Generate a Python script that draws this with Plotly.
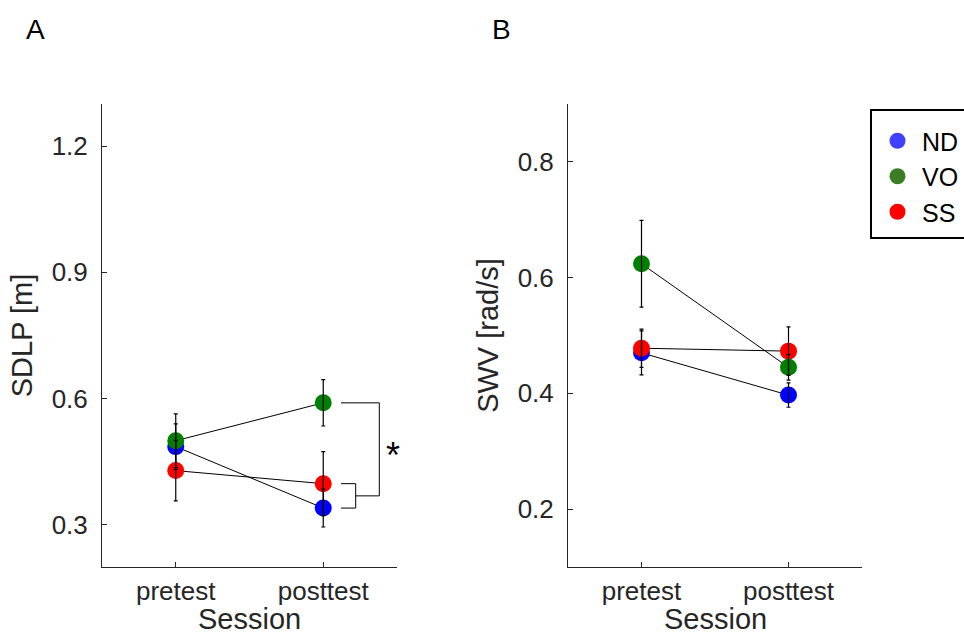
import plotly.graph_objects as go

# Sessions and groups
sessions = ["pretest", "posttest"]
session_pos = [1, 2]
group_names = ["ND", "VO", "SS"]

# Panel A: SDLP [m], group means and error bars per session
sdlp_nd = [0.486, 0.340]
sdlp_nd_err = [0.054, 0.045]
sdlp_vo = [0.500, 0.590]
sdlp_vo_err = [0.064, 0.055]
sdlp_ss = [0.429, 0.398]
sdlp_ss_err = [0.072, 0.076]
sdlp_ticks = [0.3, 0.6, 0.9, 1.2]

# Panel B: SWV [rad/s], group means and error bars per session
swv_nd = [0.470, 0.397]
swv_nd_err = [0.038, 0.021]
swv_vo = [0.624, 0.445]
swv_vo_err = [0.075, 0.022]
swv_ss = [0.478, 0.473]
swv_ss_err = [0.033, 0.042]
swv_ticks = [0.2, 0.4, 0.6, 0.8]

marker_colors = {"ND": "#0000ff", "VO": "#008000", "SS": "#ff0000"}
legend_colors = {"ND": "#4040ff", "VO": "#3a7d22", "SS": "#ff0000"}

FONT = "Liberation Sans, Arial, Helvetica, sans-serif"
AXIS_COLOR = "#262626"
W, H = 964, 636

fig = go.Figure()


def add_panel(series, xa, ya):
    # series: list of (name, means, errs), in drawing order
    for name, m, e in series:
        fig.add_trace(go.Scatter(
            x=session_pos, y=m, mode="lines",
            line=dict(color="black", width=1),
            showlegend=False, hoverinfo="skip", xaxis=xa, yaxis=ya))
    for name, m, e in series:
        fig.add_trace(go.Scatter(
            x=session_pos, y=m, mode="markers",
            marker=dict(color=marker_colors[name], size=17, line=dict(width=0)),
            showlegend=False, name=name, xaxis=xa, yaxis=ya))
    for name, m, e in series:
        fig.add_trace(go.Scatter(
            x=session_pos, y=m, mode="markers",
            marker=dict(size=1, opacity=0),
            error_y=dict(type="data", array=e, color="black",
                         thickness=1.2, width=2),
            showlegend=False, hoverinfo="skip", xaxis=xa, yaxis=ya))


add_panel([("ND", sdlp_nd, sdlp_nd_err),
           ("SS", sdlp_ss, sdlp_ss_err),
           ("VO", sdlp_vo, sdlp_vo_err)], "x", "y")
add_panel([("ND", swv_nd, swv_nd_err),
           ("SS", swv_ss, swv_ss_err),
           ("VO", swv_vo, swv_vo_err)], "x2", "y2")

# Legend entries
for rank, name in enumerate(group_names):
    fig.add_trace(go.Scatter(
        x=[None], y=[None], mode="markers", name=name,
        marker=dict(color=legend_colors[name], size=16),
        legendgroup=name, legendrank=rank + 1, xaxis="x2", yaxis="y2"))

# Legend frame (runs past the right edge of the figure)
fig.add_shape(type="rect", xref="paper", yref="paper",
              x0=871 / W, x1=1.05, y0=1 - 238 / H, y1=1 - 110 / H,
              line=dict(color="black", width=2), fillcolor="white",
              layer="above")

# Significance bracket between VO and the ND/SS pair at posttest
x_in, x_mid, x_out = 2.12, 2.22, 2.38
y_join = (sdlp_ss[1] + sdlp_nd[1]) / 2
bracket = (f"M {x_in} {sdlp_ss[1]} L {x_mid} {sdlp_ss[1]} L {x_mid} {sdlp_nd[1]} "
           f"L {x_in} {sdlp_nd[1]} M {x_mid} {y_join} L {x_out} {y_join} "
           f"L {x_out} {sdlp_vo[1]} L {x_in} {sdlp_vo[1]}")
fig.add_shape(type="path", path=bracket, xref="x", yref="y",
              line=dict(color="black", width=1))
fig.add_annotation(x=2.47, y=(sdlp_vo[1] + y_join) / 2, xref="x", yref="y",
                   text="*", showarrow=False, yshift=-6,
                   font=dict(family=FONT, size=36, color="black"))

# Panel letters
fig.add_annotation(x=35 / W, y=1 - 30 / H, xref="paper", yref="paper",
                   text="A", showarrow=False, xanchor="center", yanchor="middle",
                   font=dict(family=FONT, size=28, color="black"))
fig.add_annotation(x=501 / W, y=1 - 30 / H, xref="paper", yref="paper",
                   text="B", showarrow=False, xanchor="center", yanchor="middle",
                   font=dict(family=FONT, size=28, color="black"))

tick_font = dict(family=FONT, size=26, color=AXIS_COLOR)
title_font = dict(family=FONT, size=29, color=AXIS_COLOR)
y_dom = [1 - 567 / H, 1 - 104 / H]
xa_dom = [102 / W, 397 / W]
xb_dom = [568 / W, 862 / W]

# Shared x-axis title "Session", centred under each panel
for dom in (xa_dom, xb_dom):
    fig.add_annotation(x=(dom[0] + dom[1]) / 2, y=0,
                       xref="paper", yref="paper", text="Session",
                       showarrow=False, xanchor="center", yanchor="bottom",
                       borderpad=0, font=title_font)

common_x = dict(range=[0.5, 2.5], tickvals=session_pos, ticktext=sessions,
                ticks="inside", ticklen=5, tickcolor=AXIS_COLOR,
                showline=True, linecolor=AXIS_COLOR, linewidth=1,
                showgrid=False, zeroline=False, tickfont=tick_font,
                ticklabelstandoff=1)
common_y = dict(ticks="inside", ticklen=5, tickcolor=AXIS_COLOR,
                showline=True, linecolor=AXIS_COLOR, linewidth=1,
                showgrid=False, zeroline=False, tickfont=tick_font,
                tickformat=".1f", ticklabelstandoff=8)

fig.update_layout(
    width=W, height=H,
    margin=dict(l=0, r=0, t=0, b=0, autoexpand=False),
    paper_bgcolor="white", plot_bgcolor="white",
    font=dict(family=FONT, color=AXIS_COLOR),
    xaxis=dict(domain=xa_dom, anchor="y", **common_x),
    xaxis2=dict(domain=xb_dom, anchor="y2", **common_x),
    yaxis=dict(domain=y_dom, anchor="x", range=[0.2, 1.3], tickvals=sdlp_ticks,
               title=dict(text="SDLP [m]", font=title_font, standoff=10),
               **common_y),
    yaxis2=dict(domain=y_dom, anchor="x2", range=[0.1, 0.9], tickvals=swv_ticks,
                title=dict(text="SWV [rad/s]", font=title_font, standoff=10),
                **common_y),
    showlegend=True,
    legend=dict(x=873 / W, y=1 - 118 / H, xanchor="left", yanchor="top",
                xref="paper", yref="paper",
                bgcolor="rgba(0,0,0,0)", borderwidth=0,
                font=dict(family=FONT, size=25, color="black"),
                tracegroupgap=0, itemsizing="trace", itemwidth=39),
)

fig.write_html("out.html")
